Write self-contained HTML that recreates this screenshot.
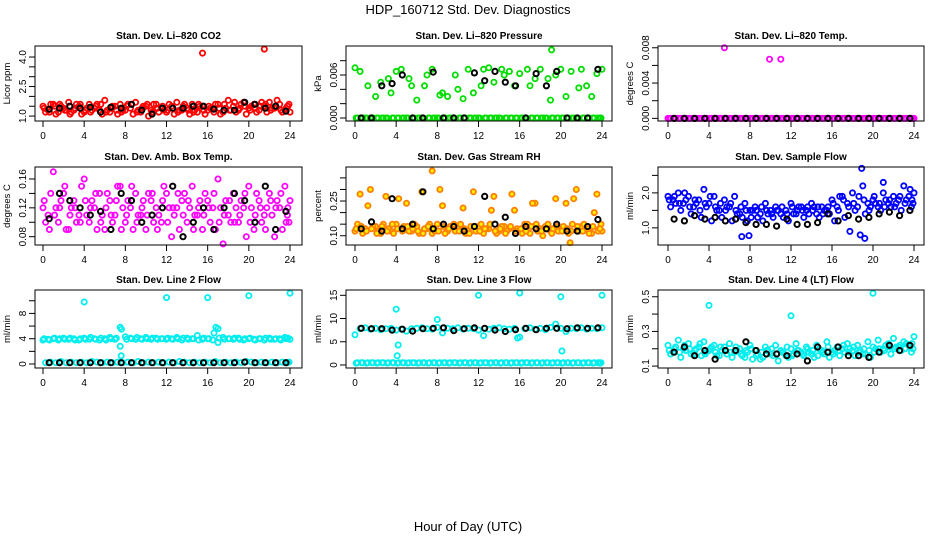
<!DOCTYPE html>
<html><head><meta charset="utf-8"><style>
body{margin:0;background:#fff;}
svg{display:block;font-family:"Liberation Sans",sans-serif;}
</style></head><body>
<svg id="c" width="936" height="540">
<text x="468" y="14" text-anchor="middle" font-size="13">HDP_160712  Std. Dev. Diagnostics</text>
<text x="468" y="531" text-anchor="middle" font-size="13">Hour of Day (UTC)</text>
</svg>
<script>
const hoursA=[0,0.5,1,1.5,2,2.5,3,3.5,4,4.5,5,5.5,6,6.5,7,7.5,8,8.5,9,9.5,10,10.5,11,11.5,12,12.5,13,13.5,14,14.5,15,15.5,16,16.5,17,17.5,18,18.5,19,19.5,20,20.5,21,21.5,22,22.5,23,23.5,24];
const hoursB=[0.25,0.75,1.25,1.75,2.25,2.75,3.25,3.75,4.25,4.75,5.25,5.75,6.25,6.75,7.25,7.75,8.25,8.75,9.25,9.75,10.25,10.75,11.25,11.75,12.25,12.75,13.25,13.75,14.25,14.75,15.25,15.75,16.25,16.75,17.25,17.75,18.25,18.75,19.25,19.75,20.25,20.75,21.25,21.75,22.25,22.75,23.25,23.75,23.9];
const hoursC=[0.12,0.62,1.12,1.62,2.12,2.62,3.12,3.62,4.12,4.62,5.12,5.62,6.12,6.62,7.12,7.62,8.12,8.62,9.12,9.62,10.12,10.62,11.12,11.62,12.12,12.62,13.12,13.62,14.12,14.62,15.12,15.62,16.12,16.62,17.12,17.62,18.12,18.62,19.12,19.62,20.12,20.62,21.12,21.62,22.12,22.62,23.12,23.62,23.8];
const hoursK=[0.6,1.6,2.6,3.6,4.6,5.6,6.6,7.6,8.6,9.6,10.6,11.6,12.6,13.6,14.6,15.6,16.6,17.6,18.6,19.6,20.6,21.6,22.6,23.6];
const xTicks=[0,4,8,12,16,20,24];

const co2A=[1.5,1.3,1.6,1.2,1.4,1.7,1.3,1.5,1.2,1.6,1.4,1.3,1.8,1.2,1.5,1.6,1.3,1.4,1.7,1.2,1.5,1.3,1.6,1.4,1.2,1.5,1.7,1.3,1.4,1.6,1.2,1.5,1.3,1.4,1.6,1.2,1.8,1.5,1.3,1.7,1.4,1.6,1.3,1.5,1.7,1.4,1.6,1.3,1.2];
const co2B=[1.2,1.6,1.1,1.5,1.3,1.2,1.6,1.1,1.4,1.3,1.6,1.1,1.3,1.5,1.1,1.3,1.6,1.1,1.3,1.5,1.0,1.6,1.2,1.3,1.6,1.1,1.3,1.6,1.1,1.3,1.5,1.1,1.4,1.6,1.1,1.4,1.3,1.2,1.6,1.1,1.5,1.2,1.7,1.2,1.4,1.8,1.2,1.5,1.6];
const co2C=[1.4,1.2,1.5,1.6,1.3,1.1,1.4,1.6,1.3,1.2,1.5,1.6,1.2,1.4,1.3,1.2,1.5,1.6,1.2,1.4,1.6,1.2,1.4,1.5,1.3,1.4,1.2,1.5,1.3,1.2,1.6,1.3,1.5,1.2,1.4,1.6,1.3,1.7,1.4,1.5,1.3,1.4,1.5,1.6,1.3,1.5,1.3,1.4,1.5];
const co2K=[1.35,1.4,1.5,1.4,1.45,1.2,1.45,1.4,1.6,1.3,1.1,1.4,1.4,1.4,1.5,1.5,1.35,1.3,1.3,1.7,1.6,1.4,1.5,1.25];
const co2OutX=[15.5,21.5];
const co2OutY=[4.2,4.4];

const presA=[0.007,0.0065,0,0,0.003,0.005,0,0.0035,0.0065,0.0068,0,0.0045,0.0025,0,0.006,0.0068,0,0.0035,0.003,0,0.004,0.0027,0.0068,0.0035,0,0.0068,0.007,0.005,0,0.006,0.0065,0.0045,0.0062,0,0.0045,0.0055,0.0068,0,0.0025,0.006,0.0068,0.003,0.0065,0,0.0068,0.0045,0.003,0.0062,0.0068];
const presB=[0,0,0.0045,0,0,0,0.0055,0,0,0,0.0055,0,0,0.0045,0,0,0.0032,0,0,0.006,0,0,0,0,0.0045,0,0,0,0.0068,0,0,0,0,0.0068,0,0,0,0.0055,0,0,0,0,0,0.0042,0,0,0,0,0];
const presC=[0,0,0,0,0,0,0,0,0,0,0,0,0,0,0,0,0,0,0,0,0,0,0,0,0,0,0,0,0,0,0,0,0,0,0,0,0,0,0,0,0,0,0,0,0,0,0,0,0];
const presK=[0,0,0.0045,0.0048,0.006,0,0,0.0064,0,0,0,0.0063,0.0052,0.0065,0.005,0.0045,0,0.0062,0.0045,0.0065,0,0,0,0.0068];
const presOutX=[19.1];
const presOutY=[0.0095];

const ltA=[0,0,0,0,0,0,0,0,0,0,0,0,0,0,0,0,0,0,0,0,0,0,0,0,0,0,0,0,0,0,0,0,0,0,0,0,0,0,0,0,0,0,0,0,0,0,0,0,0];
const ltB=[0,0,0,0,0,0,0,0,0,0,0,0,0,0,0,0,0,0,0,0,0,0,0,0,0,0,0,0,0,0,0,0,0,0,0,0,0,0,0,0,0,0,0,0,0,0,0,0,0];
const ltC=[0,0,0,0,0,0,0,0,0,0,0,0,0,0,0,0,0,0,0,0,0,0,0,0,0,0,0,0,0,0,0,0,0,0,0,0,0,0,0,0,0,0,0,0,0,0,0,0,0];
const ltK=[0,0,0,0,0,0,0,0,0,0,0,0,0,0,0,0,0,0,0,0,0,0,0,0];
const ltOutX=[5.5,9.9,11];
const ltOutY=[0.008,0.0067,0.0067];

const ambA=[0.12,0.11,0.17,0.10,0.14,0.09,0.13,0.11,0.16,0.10,0.12,0.14,0.09,0.13,0.11,0.15,0.10,0.12,0.14,0.11,0.09,0.13,0.12,0.10,0.14,0.08,0.12,0.13,0.10,0.15,0.11,0.09,0.13,0.12,0.16,0.07,0.11,0.14,0.10,0.12,0.15,0.09,0.13,0.11,0.14,0.08,0.12,0.15,0.13];
const ambB=[0.10,0.14,0.12,0.13,0.09,0.12,0.10,0.15,0.11,0.13,0.09,0.11,0.14,0.10,0.15,0.12,0.13,0.09,0.11,0.13,0.14,0.10,0.11,0.15,0.12,0.11,0.09,0.14,0.12,0.11,0.13,0.14,0.10,0.09,0.12,0.13,0.10,0.12,0.13,0.08,0.12,0.14,0.10,0.12,0.11,0.13,0.09,0.11,0.10];
const ambC=[0.13,0.09,0.11,0.12,0.15,0.11,0.12,0.10,0.13,0.12,0.14,0.10,0.12,0.11,0.13,0.09,0.11,0.15,0.10,0.12,0.11,0.14,0.09,0.13,0.10,0.12,0.14,0.11,0.13,0.09,0.12,0.11,0.12,0.14,0.10,0.11,0.13,0.10,0.11,0.14,0.10,0.11,0.12,0.09,0.13,0.12,0.14,0.10,0.12];
const ambK=[0.105,0.14,0.13,0.12,0.11,0.115,0.09,0.14,0.13,0.10,0.11,0.12,0.15,0.08,0.10,0.12,0.09,0.12,0.14,0.13,0.10,0.15,0.09,0.115];
const ambOutX=[];
const ambOutY=[];

const rhA=[0.12,0.28,0.13,0.30,0.14,0.11,0.27,0.12,0.15,0.13,0.24,0.12,0.14,0.29,0.13,0.11,0.15,0.23,0.12,0.14,0.13,0.22,0.12,0.29,0.14,0.11,0.13,0.27,0.12,0.14,0.13,0.21,0.12,0.15,0.11,0.24,0.13,0.14,0.12,0.26,0.13,0.24,0.12,0.30,0.14,0.13,0.11,0.28,0.12];
const rhB=[0.15,0.11,0.23,0.14,0.12,0.15,0.13,0.11,0.26,0.14,0.12,0.15,0.11,0.13,0.15,0.12,0.30,0.11,0.14,0.12,0.15,0.11,0.14,0.12,0.15,0.13,0.21,0.11,0.14,0.12,0.28,0.13,0.11,0.15,0.24,0.12,0.10,0.15,0.13,0.12,0.14,0.11,0.26,0.12,0.15,0.11,0.20,0.13,0.15];
const rhC=[0.13,0.14,0.12,0.13,0.11,0.14,0.12,0.15,0.13,0.12,0.14,0.13,0.12,0.11,0.14,0.13,0.12,0.14,0.13,0.15,0.12,0.13,0.11,0.14,0.12,0.13,0.15,0.12,0.13,0.11,0.14,0.12,0.13,0.12,0.14,0.15,0.12,0.13,0.11,0.14,0.12,0.13,0.15,0.14,0.12,0.13,0.14,0.12,0.13];
const rhK=[0.13,0.16,0.12,0.26,0.13,0.15,0.29,0.13,0.15,0.14,0.12,0.14,0.27,0.15,0.18,0.11,0.14,0.13,0.13,0.15,0.12,0.12,0.14,0.17];
const rhOutX=[7.5,20.9];
const rhOutY=[0.38,0.07];

const sfA=[1.9,1.8,2.0,1.7,1.9,1.6,1.8,2.1,1.7,1.9,1.5,1.8,1.6,1.9,1.4,1.7,1.5,1.6,1.4,1.7,1.5,1.6,1.4,1.5,1.7,1.4,1.6,1.5,1.7,1.4,1.6,1.5,1.8,1.6,1.9,1.7,2.0,1.6,2.2,1.7,1.8,1.6,2.0,1.7,1.9,1.8,2.2,1.9,2.0];
const sfB=[1.6,1.7,1.5,1.8,1.4,1.7,1.3,1.6,1.2,1.5,1.3,1.6,1.2,1.4,1.3,1.2,1.5,1.3,1.2,1.4,1.3,1.5,1.3,1.2,1.4,1.6,1.3,1.4,1.6,1.3,1.5,1.4,1.2,1.9,1.3,0.9,1.5,0.8,1.4,1.6,1.7,1.5,1.8,1.6,1.7,1.5,1.8,1.6,1.7];
const sfC=[1.8,1.9,1.7,2.0,1.6,1.8,1.5,1.7,1.9,1.6,1.7,1.5,1.7,1.5,1.6,1.5,1.3,1.5,1.6,1.5,1.4,1.5,1.6,1.4,1.6,1.5,1.5,1.6,1.5,1.6,1.4,1.6,1.7,1.5,1.8,1.6,1.7,1.9,1.8,1.5,1.9,1.7,1.6,1.8,1.6,1.9,1.7,2.1,1.8];
const sfK=[1.25,1.2,1.35,1.25,1.3,1.2,1.25,1.15,1.1,1.1,1.05,1.25,1.1,1.1,1.15,1.4,1.2,1.35,1.25,1.3,1.4,1.45,1.35,1.5];
const sfOutX=[18.9,19.2,7.2,21,7.9];
const sfOutY=[2.7,0.7,0.75,2.3,0.78];

const l2A=[3.8,3.9,4.0,3.8,4.1,3.9,4.0,3.8,4.1,3.9,4.0,3.8,4.0,4.2,3.9,5.8,4.3,4.1,3.9,4.0,4.2,3.9,4.1,4.0,3.9,4.0,4.2,3.8,4.1,4.0,4.5,3.9,4.0,3.8,5.6,4.2,4.0,3.9,4.1,3.8,4.0,3.9,4.0,3.8,4.1,3.9,4.0,4.2,3.9];
const l2B=[0.2,0.3,0.2,0.4,0.2,0.3,0.2,0.3,0.2,0.4,0.3,0.2,0.3,0.2,0.3,0.2,0.3,0.2,0.4,0.2,0.3,0.2,0.3,0.2,0.3,0.2,0.4,0.3,0.2,0.3,0.2,0.3,0.2,0.4,0.2,0.3,0.2,0.3,0.2,0.4,0.3,0.2,0.3,0.2,0.3,0.2,0.3,0.2,0.3];
const l2C=[4.0,3.8,4.1,4.0,3.9,4.1,3.8,4.0,3.9,4.2,3.9,4.1,3.8,4.0,4.1,5.5,3.9,4.0,4.2,3.9,4.0,4.1,3.9,4.0,4.1,3.9,4.0,4.1,3.9,4.0,3.8,4.1,4.0,4.9,4.1,3.9,4.0,4.1,3.9,4.0,4.1,3.8,4.0,4.1,3.9,4.0,3.8,4.0,4.1];
const l2K=[0.2,0.2,0.2,0.2,0.2,0.2,0.2,0.2,0.2,0.2,0.2,0.2,0.2,0.2,0.2,0.2,0.2,0.2,0.2,0.3,0.2,0.2,0.2,0.2];
const l2OutX=[4,12,16,20,24,7.6,7.5,16.8,17];
const l2OutY=[9.8,10.5,10.5,10.8,11.2,1.3,2.8,5.8,3.4];

const l3A=[6.5,7.8,8.0,7.7,7.9,7.6,7.8,7.9,7.5,7.7,7.3,7.8,7.9,8.0,7.8,7.7,8.1,6.9,7.9,7.8,8.0,7.7,7.9,7.8,7.5,6.3,7.7,7.9,8.0,7.8,7.7,7.9,6.0,7.8,8.0,7.7,7.9,7.6,8.1,8.8,7.9,7.2,7.9,7.8,8.0,7.7,7.9,7.8,8.0];
const l3B=[0.5,0.5,0.5,0.5,0.5,0.5,0.5,0.5,0.5,0.5,0.5,0.5,0.5,0.5,0.5,0.5,0.5,0.5,0.5,0.5,0.5,0.5,0.5,0.5,0.5,0.5,0.5,0.5,0.5,0.5,0.5,0.5,0.5,0.5,0.5,0.5,0.5,0.5,0.5,0.5,0.5,0.5,0.5,0.5,0.5,0.5,0.5,0.5,0.5];
const l3C=[0.4,0.5,0.4,0.5,0.4,0.5,0.4,0.5,0.4,0.5,0.4,0.5,0.4,0.5,0.4,0.5,0.4,0.5,0.4,0.5,0.4,0.5,0.4,0.5,0.4,0.5,0.4,0.5,0.4,0.5,0.4,0.5,0.4,0.5,0.4,0.5,0.4,0.5,0.4,0.5,0.4,0.5,0.4,0.5,0.4,0.5,0.4,0.5,0.4];
const l3K=[7.9,7.8,7.8,7.5,7.7,7.3,7.8,7.9,8.0,7.4,7.8,8.0,7.9,7.5,7.2,7.6,7.9,7.6,7.9,7.9,7.8,8.0,7.9,8.0];
const l3OutX=[4,8,12,16,20,24,4.2,4.1,20.1,15.8];
const l3OutY=[12,9.8,15,15.5,14.7,15,4.3,2,3,5.8];

const l4A=[0.22,0.18,0.25,0.20,0.23,0.17,0.21,0.24,0.19,0.22,0.16,0.21,0.23,0.18,0.20,0.15,0.22,0.19,0.14,0.21,0.17,0.22,0.19,0.16,0.20,0.23,0.18,0.21,0.17,0.22,0.19,0.24,0.18,0.21,0.20,0.23,0.19,0.22,0.17,0.24,0.21,0.25,0.20,0.23,0.26,0.21,0.24,0.22,0.27];
const l4B=[0.17,0.21,0.15,0.19,0.17,0.20,0.16,0.18,0.21,0.16,0.19,0.17,0.15,0.19,0.16,0.18,0.14,0.17,0.15,0.19,0.16,0.13,0.18,0.15,0.17,0.19,0.16,0.18,0.15,0.20,0.17,0.15,0.19,0.16,0.18,0.20,0.16,0.19,0.17,0.15,0.20,0.18,0.22,0.17,0.21,0.19,0.23,0.18,0.20];
const l4C=[0.19,0.20,0.18,0.22,0.20,0.19,0.23,0.17,0.20,0.18,0.21,0.19,0.18,0.21,0.17,0.19,0.20,0.16,0.18,0.19,0.20,0.17,0.18,0.21,0.16,0.19,0.17,0.20,0.19,0.16,0.18,0.21,0.17,0.19,0.22,0.18,0.21,0.18,0.20,0.19,0.18,0.20,0.19,0.21,0.20,0.22,0.20,0.21,0.23];
const l4K=[0.18,0.21,0.16,0.19,0.14,0.19,0.19,0.24,0.19,0.17,0.17,0.16,0.17,0.13,0.21,0.18,0.21,0.16,0.16,0.15,0.18,0.22,0.19,0.22];
const l4OutX=[4,12,20];
const l4OutY=[0.45,0.39,0.52];

const panels=[
 {name:'li820-co2',title:'Stan. Dev. Li\u2013820 CO2',ylab:'Licor ppm',col:0,row:0,lo:0.75,hi:4.56,ticks:[1,1.5,2,2.5,3,3.5,4],labels:{'1':'1.0','2.5':'2.5','4':'4.0'},color:'#ff0000',fill:'none',A:co2A,B:co2B,C:co2C,K:co2K,ox:co2OutX,oy:co2OutY},
 {name:'li820-pressure',title:'Stan. Dev. Li\u2013820 Pressure',ylab:'kPa',col:1,row:0,lo:-0.00042,hi:0.01005,ticks:[0,0.002,0.004,0.006,0.008],labels:{'0':'0.000','0.006':'0.006'},color:'#00dd00',fill:'none',A:presA,B:presB,C:presC,K:presK,ox:presOutX,oy:presOutY},
 {name:'li820-temp',title:'Stan. Dev. Li\u2013820 Temp.',ylab:'degrees C',col:2,row:0,lo:-0.0003,hi:0.0082,ticks:[0,0.002,0.004,0.006,0.008],labels:{'0':'0.000','0.004':'0.004','0.008':'0.008'},color:'#ff00ff',fill:'none',A:ltA,B:ltB,C:ltC,K:ltK,ox:ltOutX,oy:ltOutY},
 {name:'amb-box-temp',title:'Stan. Dev. Amb. Box Temp.',ylab:'degrees C',col:0,row:1,lo:0.0685,hi:0.1766,ticks:[0.08,0.1,0.12,0.14,0.16],labels:{'0.08':'0.08','0.12':'0.12','0.16':'0.16'},color:'#ff00ff',fill:'none',A:ambA,B:ambB,C:ambC,K:ambK,ox:ambOutX,oy:ambOutY},
 {name:'gas-stream-rh',title:'Stan. Dev. Gas Stream RH',ylab:'percent',col:1,row:1,lo:0.06,hi:0.397,ticks:[0.1,0.15,0.2,0.25,0.3,0.35],labels:{'0.1':'0.10','0.25':'0.25'},color:'#ff7f00',fill:'#ffee00',A:rhA,B:rhB,C:rhC,K:rhK,ox:rhOutX,oy:rhOutY},
 {name:'sample-flow',title:'Stan. Dev. Sample Flow',ylab:'ml/min',col:2,row:1,lo:0.51,hi:2.74,ticks:[1,1.5,2,2.5],labels:{'1':'1.0','2':'2.0'},color:'#0000ff',fill:'none',A:sfA,B:sfB,C:sfC,K:sfK,ox:sfOutX,oy:sfOutY},
 {name:'line2-flow',title:'Stan. Dev. Line 2 Flow',ylab:'ml/min',col:0,row:2,lo:-0.63,hi:11.7,ticks:[0,2,4,6,8,10],labels:{'0':'0','4':'4','8':'8'},color:'#00eeee',fill:'none',A:l2A,B:l2B,C:l2C,K:l2K,ox:l2OutX,oy:l2OutY},
 {name:'line3-flow',title:'Stan. Dev. Line 3 Flow',ylab:'ml/min',col:1,row:2,lo:-0.65,hi:16.14,ticks:[0,5,10,15],labels:{'0':'0','5':'5','10':'10','15':'15'},color:'#00eeee',fill:'none',A:l3A,B:l3B,C:l3C,K:l3K,ox:l3OutX,oy:l3OutY},
 {name:'line4-flow',title:'Stan. Dev. Line 4 (LT) Flow',ylab:'ml/min',col:2,row:2,lo:0.089,hi:0.539,ticks:[0.1,0.2,0.3,0.4,0.5],labels:{'0.1':'0.1','0.3':'0.3','0.5':'0.5'},color:'#00eeee',fill:'none',A:l4A,B:l4B,C:l4C,K:l4K,ox:l4OutX,oy:l4OutY}
];
const colBox=[[35,302],[346,612],[658,924]];
const colX0=[43,355,668];
const colX24=[290,602,914];
const rowBox=[[46,121],[167,245],[290,368]];
const NS='http://www.w3.org/2000/svg';
const svg=document.getElementById('c');
function mk(tag,attrs,parent){const e=document.createElementNS(NS,tag);for(const k in attrs)e.setAttribute(k,attrs[k]);(parent||svg).appendChild(e);return e;}
panels.forEach(p=>{
 const g=mk('g',{});
 
 
 const [bl,br]=colBox[p.col],[bt,bb]=rowBox[p.row];
 const xs=h=>colX0[p.col]+(colX24[p.col]-colX0[p.col])*h/24;
 const ys=v=>bb-(v-p.lo)/(p.hi-p.lo)*(bb-bt);
 const t=mk('text',{x:(bl+br)/2,y:bt-7,'text-anchor':'middle','font-size':'10','font-weight':'bold'},g);t.textContent=p.title;
 
 
 const yl=mk('text',{x:0,y:0,'text-anchor':'middle','font-size':'9.5',transform:`translate(${bl-25},${(bt+bb)/2}) rotate(-90)`},g);yl.textContent=p.ylab;
 
 
 const clip=mk('g',{},g);
 const draw=(xsArr,vals,color,fill,sw,nm)=>{vals.forEach((v,i)=>{if(i>=xsArr.length)return;const c=mk('circle',{cx:xs(xsArr[i]).toFixed(1),cy:ys(v).toFixed(1),r:2.6,fill:fill,stroke:color,'stroke-width':sw},clip);
  
  });};
 draw(hoursA,p.A,p.color,p.fill,1.8,p.name+'-point');
 draw(hoursB,p.B,p.color,p.fill,1.8,p.name+'-point');
 draw(hoursC,p.C,p.color,p.fill,1.8,p.name+'-point');
 draw(p.ox,p.oy,p.color,p.fill,1.8,p.name+'-outlier');
 draw(hoursK,p.K,'#000000','none',2,p.name+'-ref-point');
 const box=mk('rect',{x:bl,y:bt,width:br-bl,height:bb-bt,fill:'none',stroke:'#000','stroke-width':1},g);
 
 
 xTicks.forEach(h=>{const x=xs(h);mk('line',{x1:x,x2:x,y1:bb,y2:bb+6,stroke:'#000'},g);
  const tx=mk('text',{x:x,y:bb+18,'text-anchor':'middle','font-size':'10'},g);tx.textContent=h;
  
  });
 p.ticks.forEach(v=>{const y=ys(v);mk('line',{x1:bl-6,x2:bl,y1:y,y2:y,stroke:'#000'},g);
  const lab=p.labels[String(v)];if(lab){const ty=mk('text',{x:0,y:0,'text-anchor':'middle','font-size':'10',transform:`translate(${bl-9},${y}) rotate(-90)`},g);ty.textContent=lab;
  
  }});
});
</script>
</body></html>
